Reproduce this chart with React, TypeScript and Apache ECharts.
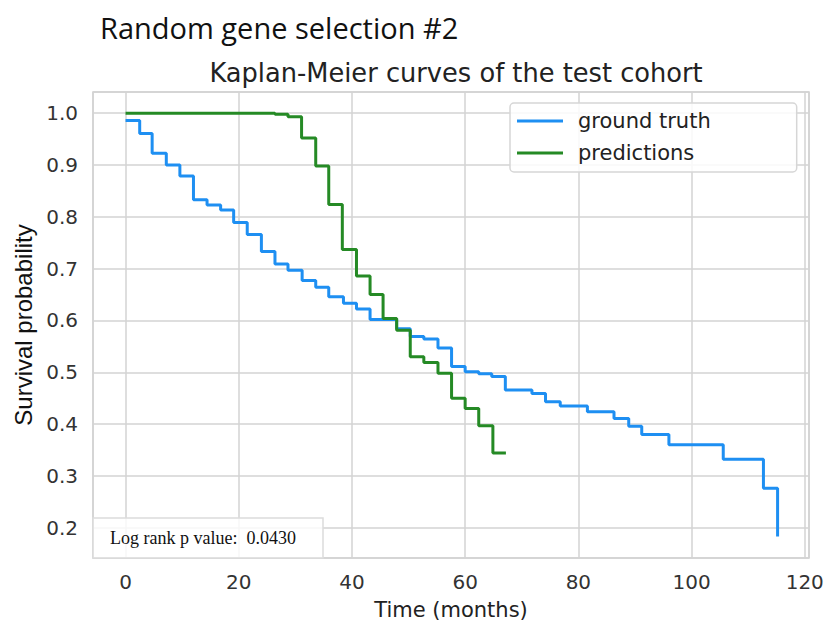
import React, { useEffect, useRef } from "react";
import * as echarts from "echarts";

// Ground truth Kaplan-Meier curve (time in months, survival after the step)
const truthTimes = [0, 2.5, 4.7, 7.2, 9.6, 12.0, 14.4, 16.8, 19.1, 21.5, 24.0, 26.4, 28.7, 31.2, 33.6, 35.9, 38.5, 40.8, 43.2, 47.9, 50.3, 52.7, 55.2, 57.6, 60.0, 62.4, 64.7, 67.1, 71.8, 74.2, 76.8, 81.6, 86.3, 88.9, 91.2, 96.0, 105.6, 112.7, 115.2];
const truthSurv = [0.986, 0.961, 0.923, 0.900, 0.879, 0.833, 0.823, 0.813, 0.789, 0.766, 0.733, 0.709, 0.697, 0.677, 0.664, 0.646, 0.633, 0.622, 0.602, 0.584, 0.569, 0.564, 0.547, 0.511, 0.501, 0.497, 0.492, 0.466, 0.459, 0.443, 0.435, 0.424, 0.411, 0.396, 0.380, 0.360, 0.332, 0.276, 0.183];

// Predicted Kaplan-Meier curve
const predTimes = [0, 26.4, 28.7, 31.1, 33.6, 35.9, 38.3, 40.8, 43.2, 45.5, 47.9, 50.3, 52.7, 55.2, 57.6, 60.0, 62.4, 64.9, 67.2];
const predSurv = [1.0, 0.998, 0.993, 0.952, 0.898, 0.824, 0.737, 0.686, 0.650, 0.604, 0.581, 0.530, 0.519, 0.498, 0.450, 0.430, 0.397, 0.344, 0.344];

const seriesNames = ["ground truth", "predictions"];
const mainTitle = "Random gene selection #2";
const subTitle = "Kaplan-Meier curves of the test cohort";
const xName = "Time (months)";
const yName = "Survival probability";
const pValueText = "Log rank p value:  0.0430";

const X_MIN = -5.75;
const X_MAX = 120.75;
const Y_MIN = 0.1415;
const Y_MAX = 1.041;

const BLUE = "#1e8ff2";
const GREEN = "#258a25";

export default function App() {
  const ref = useRef<HTMLDivElement>(null);
  useEffect(() => {
    if (!ref.current) return;
    const chart = echarts.init(ref.current, null, { renderer: "svg" });
    const tickFont = { fontFamily: "DejaVu Sans", fontSize: 20, color: "#333" };
    chart.setOption({
      animation: false,
      backgroundColor: "#fff",
      title: [
        {
          text: mainTitle,
          left: 95,
          top: 8,
          textStyle: { fontFamily: "Open Sans", fontSize: 29, fontWeight: "normal", color: "#111" },
        },
        {
          text: subTitle,
          left: 451,
          textAlign: "center",
          top: 55,
          textStyle: { fontFamily: "DejaVu Sans", fontSize: 25.7, fontWeight: "normal", color: "#222" },
        },
      ],
      legend: {
        data: seriesNames,
        orient: "vertical",
        left: 510,
        top: 103,
        icon: "rect",
        itemWidth: 46,
        itemHeight: 3,
        itemGap: 10,
        padding: [7, 86, 8, 7],
        backgroundColor: "rgba(255,255,255,0.85)",
        borderColor: "#d6d6d6",
        borderWidth: 1.5,
        borderRadius: 4,
        textStyle: { fontFamily: "DejaVu Sans", fontSize: 21, color: "#222", lineHeight: 22, padding: [0, 0, 0, 10] },
      },
      grid: {
        left: 93,
        right: 16,
        top: 92,
        bottom: 62,
        outerBoundsMode: "none",
        containLabel: false,
        show: true,
        borderColor: "#cfcfcf",
        borderWidth: 1.5,
        backgroundColor: "#fff",
      },
      xAxis: {
        type: "value",
        min: X_MIN,
        max: X_MAX,
        splitNumber: 6,
        name: xName,
        nameLocation: "middle",
        nameGap: 41,
        nameTextStyle: { fontFamily: "DejaVu Sans", fontSize: 21, color: "#222" },
        axisLine: { show: false },
        axisTick: { show: false },
        axisLabel: { ...tickFont, margin: 14, showMinLabel: false, showMaxLabel: false },
        splitLine: { show: true, lineStyle: { color: "#d3d3d3", width: 1.5 } },
      },
      yAxis: {
        type: "value",
        min: Y_MIN,
        max: Y_MAX,
        splitNumber: 9,
        name: yName,
        nameLocation: "middle",
        nameRotate: 90,
        nameGap: 56,
        nameTextStyle: { fontFamily: "Liberation Sans", fontSize: 24, color: "#111" },
        axisLine: { show: false },
        axisTick: { show: false },
        axisLabel: {
          ...tickFont,
          margin: 15,
          showMinLabel: false,
          showMaxLabel: false,
          formatter: (v: number) => v.toFixed(1),
        },
        splitLine: { show: true, lineStyle: { color: "#d3d3d3", width: 1.5 } },
      },
      series: [
        {
          name: seriesNames[0],
          type: "line",
          step: "end",
          symbol: "none",
          data: truthTimes.map((t, i) => [t, truthSurv[i]]),
          lineStyle: { color: BLUE, width: 3 },
          itemStyle: { color: BLUE },
        },
        {
          name: seriesNames[1],
          type: "line",
          step: "end",
          symbol: "none",
          data: predTimes.map((t, i) => [t, predSurv[i]]),
          lineStyle: { color: GREEN, width: 3 },
          itemStyle: { color: GREEN },
        },
      ],
      graphic: [
        {
          type: "rect",
          z: 100,
          shape: { x: 93, y: 518, width: 230, height: 40 },
          style: { fill: "rgba(255,255,255,0.8)", stroke: "#dcdcdc", lineWidth: 1.5 },
        },
        {
          type: "text",
          z: 101,
          x: 110,
          y: 538,
          style: {
            text: pValueText,
            fontFamily: "Liberation Serif",
            fontSize: 18,
            fill: "#111",
            verticalAlign: "middle",
            textAlign: "left",
          },
        },
      ],
    });
    return () => chart.dispose();
  }, []);
  return (
    <div
      ref={ref}
      style={{ position: "fixed", left: 0, top: 0, width: 825, height: 620 }}
    />
  );
}
